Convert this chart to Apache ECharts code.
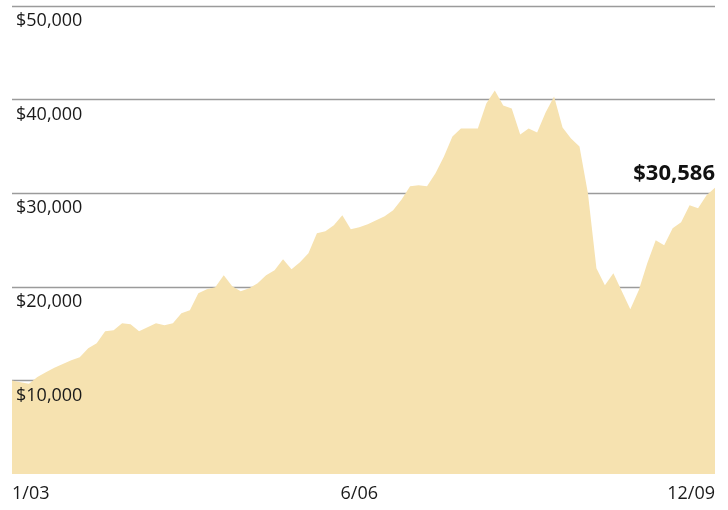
<!DOCTYPE html>
<html>
<head>
<meta charset="utf-8">
<script src="https://cdn.jsdelivr.net/npm/echarts@6/dist/echarts.min.js"></script>
<style>
html,body{margin:0;padding:0;background:#fff;}
#chart{width:728px;height:510px;}
</style>
</head>
<body>
<div id="chart"></div>
<script>
// Monthly growth of $10,000, 1/03 - 12/09
const values2003 = [10000, 9800, 9650, 10350, 10880, 11350, 11740, 12160, 12480, 13440, 13980, 15260];
const values2004 = [15360, 16110, 16000, 15260, 15690, 16110, 15900, 16110, 17180, 17500, 19310, 19740];
const values2005 = [19950, 21230, 20060, 19530, 19850, 20380, 21230, 21770, 22940, 21870, 22620, 23580];
const values2006 = [25710, 25930, 26570, 27640, 26140, 26350, 26680, 27100, 27530, 28170, 29340, 30730];
const values2007 = [30840, 30730, 32120, 33930, 36070, 36920, 36920, 36920, 39590, 40970, 39370, 39050];
const values2008 = [36280, 36920, 36490, 38630, 40330, 37020, 35850, 35000, 29980, 21980, 20170, 21450];
const values2009 = [19530, 17610, 19630, 22510, 24970, 24430, 26250, 26890, 28700, 28380, 29770, 30586];

const years = ['03', '04', '05', '06', '07', '08', '09'];
const categories = [];
years.forEach(y => { for (let m = 1; m <= 12; m++) categories.push(m + '/' + y); });

const xTickLabels = ['1/03', '6/06', '12/09'];
const yTickValues = [10000, 20000, 30000, 40000, 50000];

const values = [].concat(values2003, values2004, values2005, values2006, values2007, values2008, values2009);
const lastIndex = values.length - 1;
const lastValue = values[lastIndex];

const fmtDollar = v => '$' + v.toLocaleString('en-US');
const FONT = '"Open Sans", "Noto Sans", sans-serif';

const chart = echarts.init(document.getElementById('chart'), null, {renderer: 'canvas'});
chart.setOption({
  animation: false,
  backgroundColor: '#ffffff',
  grid: {left: 12, right: 13, top: 6, bottom: 36, containLabel: false},
  xAxis: {
    type: 'category',
    data: categories,
    boundaryGap: false,
    axisLine: {show: false},
    axisTick: {show: false},
    splitLine: {show: false},
    axisLabel: {
      interval: (idx, val) => xTickLabels.indexOf(val) >= 0,
      formatter: v => v,
      color: '#1a1a1a',
      fontFamily: FONT,
      fontSize: 18,
      margin: 11,
      alignMinLabel: 'left',
      alignMaxLabel: 'right'
    }
  },
  yAxis: [
    {
      type: 'value', position: 'left', min: 0, max: 50000, interval: 10000, z: 0,
      axisLine: {show: false}, axisTick: {show: false},
      axisLabel: {show: false},
      splitLine: {show: true, showMinLine: false, lineStyle: {color: '#9b9b9b', width: 1.3}}
    },
    {
      type: 'value', position: 'left', offset: 0, min: 0, max: 50000, interval: 10000, z: 10,
      axisLine: {show: false}, axisTick: {show: false},
      splitLine: {show: false},
      axisLabel: {
        inside: true,
        margin: 4,
        verticalAlign: 'top',
        padding: [6, 0, 0, 0],
        color: '#1a1a1a',
        fontFamily: FONT,
        fontSize: 18,
        formatter: v => (yTickValues.indexOf(v) >= 0 ? fmtDollar(v) : '')
      }
    }
  ],
  series: [{
    type: 'line',
    xAxisIndex: 0,
    yAxisIndex: 0,
    z: 2,
    data: values,
    symbol: 'none',
    showSymbol: false,
    lineStyle: {width: 0},
    areaStyle: {color: '#F6E2B0', opacity: 1},
    markPoint: {
      symbol: 'circle',
      symbolSize: 0,
      silent: true,
      data: [{coord: [lastIndex, lastValue], value: lastValue}],
      label: {
        show: true,
        position: 'top',
        distance: 3,
        align: 'right',
        formatter: p => fmtDollar(p.value),
        color: '#111',
        fontFamily: FONT,
        fontWeight: 'bold',
        fontSize: 22
      }
    }
  }]
});
</script>
</body>
</html>
